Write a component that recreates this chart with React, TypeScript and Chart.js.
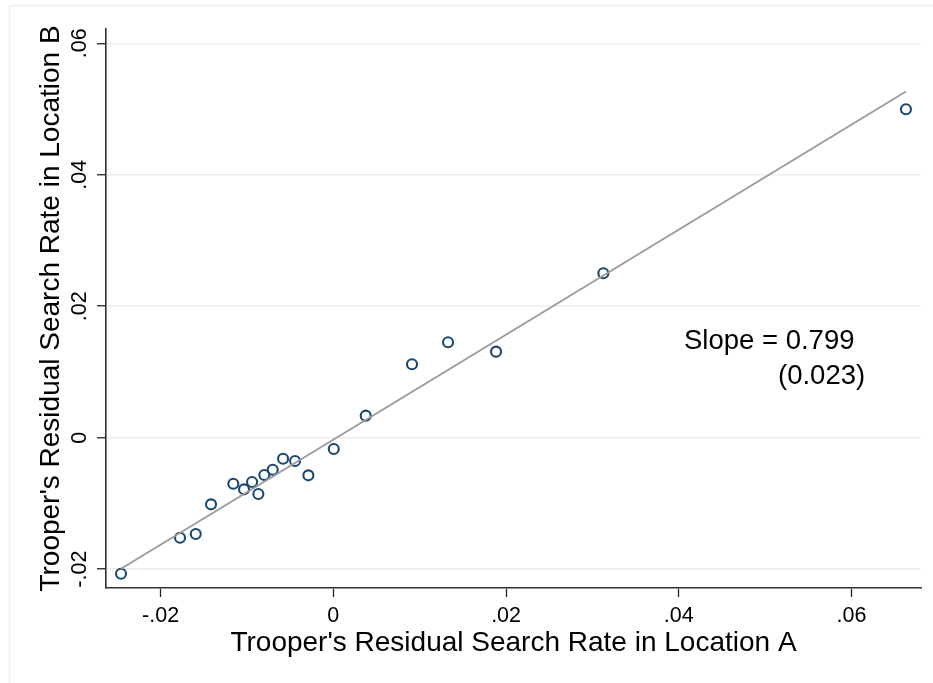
import React, { useEffect, useRef } from "react";
import { Chart, registerables } from "chart.js";

Chart.register(...registerables);

// Residual search rates per trooper in the two locations
const residualA = [
  -0.02458, -0.01775, -0.01593, -0.01416, -0.01158, -0.01034, -0.00941, -0.00868,
  -0.00799, -0.00702, -0.00582, -0.00443, -0.00289, 0.00005, 0.00375, 0.00911,
  0.01328, 0.01884, 0.03126, 0.0663,
];
const residualB = [
  -0.0207, -0.01522, -0.01466, -0.01014, -0.007, -0.00786, -0.00674, -0.00857,
  -0.00568, -0.00487, -0.0032, -0.00355, -0.00573, -0.00172, 0.00335, 0.01117,
  0.01452, 0.01309, 0.02502, 0.04998,
];

// Linear fit
const fitSlope = 0.799;
const fitSlopeSE = 0.023;
const fitIntercept = -0.0003;

// Axes
const xTickValues = [-0.02, 0, 0.02, 0.04, 0.06];
const yTickValues = [-0.02, 0, 0.02, 0.04, 0.06];
const xRange = [-0.02632, 0.06804];
const yRange = [-0.02287, 0.06218];
const xTitle = "Trooper's Residual Search Rate in Location A";
const yTitle = "Trooper's Residual Search Rate in Location B";

// Where the slope annotation sits (data units)
const slopeNoteAt = { x: 0.0406, y: 0.0135 };

const FONT = '"Liberation Sans", Arial, Helvetica, sans-serif';
const NAVY = "#1a476f";

function tickLabel(v: number): string {
  if (Math.abs(v) < 1e-12) return "0";
  return v.toFixed(2).replace(/^(-?)0\./, "$1.");
}

const stataDecor = {
  id: "stataDecor",
  beforeDraw(chart: any) {
    const ctx = chart.ctx;
    ctx.save();
    ctx.fillStyle = "#ffffff";
    ctx.fillRect(0, 0, chart.width, chart.height);
    // light outer graph-region frame
    ctx.strokeStyle = "#eaf0f3";
    ctx.lineWidth = 1.5;
    ctx.strokeRect(9.5, 5.5, chart.width + 20, chart.height + 20);
    ctx.restore();
  },
  afterDraw(chart: any) {
    const ctx = chart.ctx;
    const xs = chart.scales.x;
    const ys = chart.scales.y;
    const area = chart.chartArea;
    ctx.save();
    ctx.fillStyle = "#000000";

    // x tick labels
    ctx.font = `21.5px ${FONT}`;
    ctx.textAlign = "center";
    ctx.textBaseline = "alphabetic";
    xTickValues.forEach((v) => {
      ctx.fillText(tickLabel(v), xs.getPixelForValue(v), area.bottom + 34);
    });

    // y tick labels, rotated
    yTickValues.forEach((v) => {
      ctx.save();
      ctx.translate(area.left - 20, ys.getPixelForValue(v));
      ctx.rotate(-Math.PI / 2);
      ctx.fillText(tickLabel(v), 0, 0);
      ctx.restore();
    });

    // axis titles
    ctx.font = `28px ${FONT}`;
    ctx.fillText(xTitle, (area.left + area.right) / 2, area.bottom + 63);
    ctx.save();
    ctx.translate(area.left - 47, (area.top + area.bottom) / 2);
    ctx.rotate(-Math.PI / 2);
    ctx.fillText(yTitle, 0, 0);
    ctx.restore();

    // slope annotation
    ctx.font = `27.5px ${FONT}`;
    ctx.textAlign = "left";
    const nx = xs.getPixelForValue(slopeNoteAt.x);
    const ny = ys.getPixelForValue(slopeNoteAt.y);
    ctx.fillText(`Slope = ${fitSlope.toFixed(3)}`, nx, ny);
    ctx.fillText(`(${fitSlopeSE.toFixed(3)})`, nx + 94, ny + 35);
    ctx.restore();
  },
};

export default function App() {
  const canvasRef = useRef<HTMLCanvasElement | null>(null);

  useEffect(() => {
    const canvas = canvasRef.current;
    if (!canvas) return;

    const points = residualA.map((x, i) => ({ x, y: residualB[i] }));
    const xMin = Math.min(...residualA);
    const xMax = Math.max(...residualA);
    const fitLine = [xMin, xMax].map((x) => ({ x, y: fitIntercept + fitSlope * x }));

    const chart = new Chart(canvas, {
      type: "scatter",
      data: {
        datasets: [
          {
            type: "line",
            label: "Fitted values",
            data: fitLine,
            borderColor: "#9c9c9c",
            borderWidth: 2,
            pointRadius: 0,
            fill: false,
          },
          {
            label: "Residual search rate",
            data: points,
            pointStyle: "circle",
            pointRadius: 5,
            pointBorderWidth: 2.1,
            pointBorderColor: NAVY,
            pointBackgroundColor: "rgba(0,0,0,0)",
            borderColor: NAVY,
            backgroundColor: "rgba(0,0,0,0)",
          },
        ],
      },
      options: {
        responsive: false,
        animation: false,
        devicePixelRatio: 1,
        events: [],
        layout: {
          autoPadding: false,
          padding: { left: 106, top: 29, right: 12, bottom: 95 },
        },
        plugins: {
          legend: { display: false },
          tooltip: { enabled: false },
        },
        scales: {
          x: {
            type: "linear",
            position: "bottom",
            min: xRange[0],
            max: xRange[1],
            afterBuildTicks: (s: any) => {
              s.ticks = xTickValues.map((value) => ({ value }));
            },
            afterFit: (s: any) => {
              s.height = 0;
            },
            ticks: { display: false },
            grid: {
              drawOnChartArea: false,
              drawTicks: true,
              tickLength: 9,
              tickColor: "#222222",
              tickWidth: 1.3,
            },
            border: { display: true, color: "#333333", width: 1.6 },
            title: { display: false },
          },
          y: {
            type: "linear",
            position: "left",
            min: yRange[0],
            max: yRange[1],
            afterBuildTicks: (s: any) => {
              s.ticks = yTickValues.map((value) => ({ value }));
            },
            afterFit: (s: any) => {
              s.width = 0;
            },
            ticks: { display: false },
            grid: {
              drawOnChartArea: true,
              color: "#e8eff2",
              lineWidth: 1.5,
              drawTicks: true,
              tickLength: 9,
              tickColor: "#222222",
              tickWidth: 1.3,
            },
            border: { display: true, color: "#333333", width: 1.6 },
            title: { display: false },
          },
        },
      },
      plugins: [stataDecor],
    });

    return () => chart.destroy();
  }, []);

  return (
    <div style={{ position: "fixed", left: 0, top: 0, width: 933, height: 683, background: "#fff" }}>
      <canvas ref={canvasRef} width={933} height={683} style={{ display: "block", width: 933, height: 683 }} />
    </div>
  );
}
